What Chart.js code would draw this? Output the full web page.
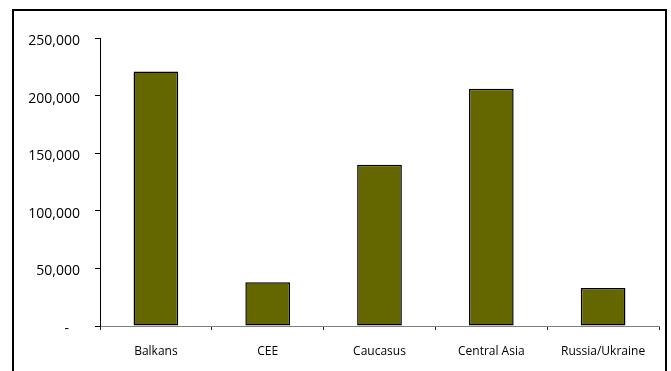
<!DOCTYPE html>
<html>
<head>
<meta charset="utf-8">
<script src="https://cdn.jsdelivr.net/npm/chart.js@4.4.1/dist/chart.umd.min.js"></script>
<style>
    html, body { margin: 0; padding: 0; background: #fff; overflow: hidden; }
    #wrap { position: relative; width: 671px; height: 371px; }
    #frame {
        position: absolute; left: 12px; top: 9px;
        width: 651px; height: 400px;
        border: 2px solid #000;
    }
    #chart { position: absolute; left: 0; top: 0; }
</style>
</head>
<body>
<div id="wrap">
    <div id="frame"></div>
    <canvas id="chart" width="671" height="371"></canvas>
</div>
<script>
// data
const regions = ["Balkans", "CEE", "Caucasus", "Central Asia", "Russia/Ukraine"];
const values = [221000, 38000, 140000, 206000, 33000];
const yTicks = [0, 50000, 100000, 150000, 200000, 250000];

const BAR_FILL = "#646600";
const FONT = "'Open Sans', 'DejaVu Sans', sans-serif";

// Excel accounting style: zero shows as a dash
function fmtTick(v) {
    if (v === 0) return "-   ";
    return v.toLocaleString("en-US");
}

new Chart(document.getElementById("chart"), {
    type: "bar",
    data: {
        labels: regions,
        datasets: [{
            data: values,
            backgroundColor: BAR_FILL,
            borderColor: "#000",
            borderWidth: 1.5,
            borderSkipped: false,
            categoryPercentage: 1,
            barPercentage: 0.4
        }]
    },
    options: {
        responsive: false,
        animation: false,
        layout: { padding: { top: 38, right: 12, left: 0, bottom: 0 } },
        plugins: { legend: { display: false }, tooltip: { enabled: false } },
        scales: {
            x: {
                offset: true,
                grid: { display: true, drawOnChartArea: false, offset: true, tickLength: 4, color: "#222" },
                border: { display: true, color: "#808080", width: 1 },
                ticks: { color: "#000", font: { family: FONT, size: 12 }, padding: 14, maxRotation: 0 },
                afterFit: s => { s.height = 45; }
            },
            y: {
                min: 0,
                max: 250000,
                afterBuildTicks: s => { s.ticks = yTicks.map(v => ({ value: v })); },
                grid: { display: true, drawOnChartArea: false, tickLength: 5, color: "#000" },
                border: { display: true, color: "#000", width: 1 },
                ticks: {
                    color: "#000",
                    font: { family: FONT, size: 14 },
                    padding: 15,
                    labelOffset: 3,
                    callback: v => fmtTick(v)
                },
                afterFit: s => { s.width = 100; }
            }
        }
    }
});
</script>
</body>
</html>
